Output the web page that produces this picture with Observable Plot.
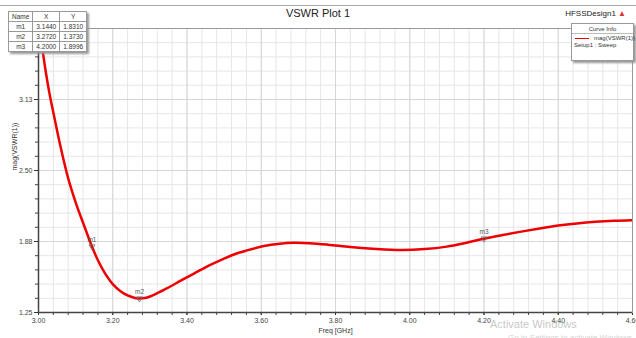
<!DOCTYPE html>
<html>
<head>
<meta charset="utf-8">
<script src="https://cdn.jsdelivr.net/npm/d3@7"></script>
<script src="https://cdn.jsdelivr.net/npm/@observablehq/plot@0.6"></script>
<style>
  html, body { margin: 0; padding: 0; background: #fff; }
  #wrap { position: relative; width: 636px; height: 338px; overflow: hidden; font-family: "Liberation Sans", Arial, sans-serif; }
  #title { position: absolute; left: 0; width: 636px; top: 7px; text-align: center; font-size: 11px; color: #222; }
  #topline { position: absolute; left: 0; width: 636px; top: 5px; border-top: 1px solid #aaa; }
  #design { position: absolute; right: 10px; top: 9px; font-size: 8px; color: #222; }
  #design span { color: #d33; }
  table.mk { position: absolute; left: 8px; top: 11px; border-collapse: collapse; font-size: 6.5px; background: #fff; box-shadow: 2px 2px 2px #999; color: #333; }
  table.mk td { border: 1px solid #999; padding: 0 3px; height: 9px; text-align: center; }
  #legend { position: absolute; left: 571px; top: 23px; width: 61px; height: 36px; border: 1px solid #999; background: #fff; box-shadow: 2px 2px 2px #999; font-size: 6px; color: #333; }
  #legend .hd { text-align: center; border-bottom: 1px solid #bbb; padding: 2px 0 1px; }
  #legend .row { position: relative; height: 8px; }
  #legend .sw { position: absolute; left: 3px; top: 4px; width: 14px; border-top: 1.5px solid #e00; }
  #legend .lb { position: absolute; left: 22px; top: 1px; }
  #legend .su { padding-left: 2px; }
  #chart { position: absolute; left: 0; top: 0; }
  #wm1 { position: absolute; left: 490px; top: 318px; font-size: 11px; color: rgba(150,150,150,0.55); }
  #wm2 { position: absolute; left: 508px; top: 333px; font-size: 8px; color: rgba(150,150,150,0.45); }
</style>
</head>
<body>
<div id="wrap">
  <div id="chart"></div>
  <div id="topline"></div>
  <div id="title">VSWR Plot 1</div>
  <div id="design">HFSSDesign1 <span>▲</span></div>
  <div id="tablebox"></div>
  <div id="legend">
    <div class="hd">Curve Info</div>
    <div class="row"><div class="sw"></div><div class="lb">mag(VSWR(1))</div></div>
    <div class="su">Setup1 : Sweep</div>
  </div>
  <div id="wm1">Activate Windows</div>
  <div id="wm2">Go to Settings to activate Windows</div>
</div>
<script>
// Curve data (Freq GHz, mag(VSWR(1)))
const freq = [3.00, 3.01, 3.02, 3.03, 3.04, 3.06, 3.08, 3.10, 3.12, 3.144, 3.16, 3.18, 3.20, 3.22, 3.24, 3.26, 3.272, 3.29, 3.32, 3.35, 3.383, 3.42, 3.46, 3.50, 3.53, 3.56, 3.607, 3.65, 3.687, 3.73, 3.78, 3.84, 3.90, 3.976, 4.04, 4.10, 4.15, 4.20, 4.25, 4.30, 4.35, 4.40, 4.45, 4.50, 4.55, 4.60];
const vswr = [3.80, 3.58, 3.36, 3.17, 3.01, 2.70, 2.43, 2.22, 2.04, 1.831, 1.71, 1.59, 1.50, 1.44, 1.40, 1.378, 1.373, 1.38, 1.42, 1.47, 1.53, 1.595, 1.665, 1.725, 1.765, 1.795, 1.835, 1.856, 1.864, 1.86, 1.847, 1.827, 1.812, 1.80, 1.808, 1.83, 1.862, 1.8996, 1.932, 1.962, 1.99, 2.015, 2.034, 2.048, 2.057, 2.062];

// Markers
const markerNames = ["m1", "m2", "m3"];
const markerX = [3.1440, 3.2720, 4.2000];
const markerY = [1.8310, 1.3730, 1.8996];

// Axis ticks
const xTicks = [3.00, 3.20, 3.40, 3.60, 3.80, 4.00, 4.20, 4.40, 4.60];
const yTicks = [1.25, 1.875, 2.50, 3.125];
const yTickLabels = ["1.25", "1.88", "2.50", "3.13"];
const xMinorStep = 0.04;
const yMinorStep = 0.125;
const xDomain = [3.0, 4.6];
const yDomain = [1.25, 3.75];

const curve = freq.map((f, i) => ({f, v: vswr[i]}));
const markers = markerNames.map((n, i) => ({n, x: markerX[i], y: markerY[i]}));
const xMinor = d3.range(xDomain[0], xDomain[1] + 1e-9, xMinorStep);
const yMinor = d3.range(yDomain[0], yDomain[1] + 1e-9, yMinorStep);

// marker table
const tb = document.createElement("table");
tb.className = "mk";
let html = "<tr><td>Name</td><td>X</td><td>Y</td></tr>";
markers.forEach(m => { html += `<tr><td style="padding:0 6px">${m.n}</td><td>${m.x.toFixed(4)}</td><td>${m.y.toFixed(4)}</td></tr>`; });
tb.innerHTML = html;
document.getElementById("tablebox").appendChild(tb);

const chart = Plot.plot({
  width: 636,
  height: 338,
  marginLeft: 38,
  marginRight: 4,
  marginTop: 28,
  marginBottom: 26,
  style: {fontFamily: "Liberation Sans, Arial, sans-serif", fontSize: "7px", color: "#333", background: "transparent", overflow: "visible"},
  x: {domain: xDomain},
  y: {domain: yDomain},
  marks: [
    Plot.ruleX(xMinor, {stroke: "#e6e6e6", strokeWidth: 1}),
    Plot.ruleY(yMinor, {stroke: "#e6e6e6", strokeWidth: 1}),
    Plot.ruleX(xTicks, {stroke: "#d6d6d6", strokeWidth: 1}),
    Plot.ruleY(yTicks, {stroke: "#d6d6d6", strokeWidth: 1}),
    Plot.line(curve, {x: "f", y: "v", stroke: "#ee0000", strokeWidth: 2.5, curve: "catmull-rom", clip: true}),
    Plot.dot(markers, {x: "x", y: "y", symbol: "triangle", r: 2.2, rotate: 180, stroke: "#666", strokeWidth: 0.8, fill: "none"}),
    Plot.text(markers, {x: "x", y: "y", text: "n", dy: -7, fill: "#555", fontSize: 6.5}),
    Plot.axisX({ticks: xMinor, tickSize: 3, tickFormat: () => "", stroke: "#444"}),
    Plot.axisX({ticks: xTicks, tickSize: 3, tickFormat: d => d.toFixed(2), tickPadding: 3, label: null, fill: "#444"}),
    Plot.axisY({ticks: yMinor, tickSize: 3, tickFormat: () => "", stroke: "#444"}),
    Plot.axisY({ticks: yTicks, tickSize: 4, tickFormat: (d, i) => yTickLabels[i], tickPadding: 2, label: null, fill: "#444"}),
    Plot.frame({stroke: "#999", strokeWidth: 1}),
    Plot.ruleX([xDomain[0]], {stroke: "#444", strokeWidth: 1.5}),
    Plot.ruleY([yDomain[0]], {stroke: "#444", strokeWidth: 1.5}),
    Plot.text(["Freq [GHz]"], {frameAnchor: "bottom", dy: 20, x: 3.8, fontSize: 7, fill: "#333"}),
    Plot.text(["mag(VSWR(1))"], {frameAnchor: "left", dx: -24, rotate: -90, fontSize: 7, fill: "#333"})
  ]
});
document.getElementById("chart").appendChild(chart);
</script>
</body>
</html>
